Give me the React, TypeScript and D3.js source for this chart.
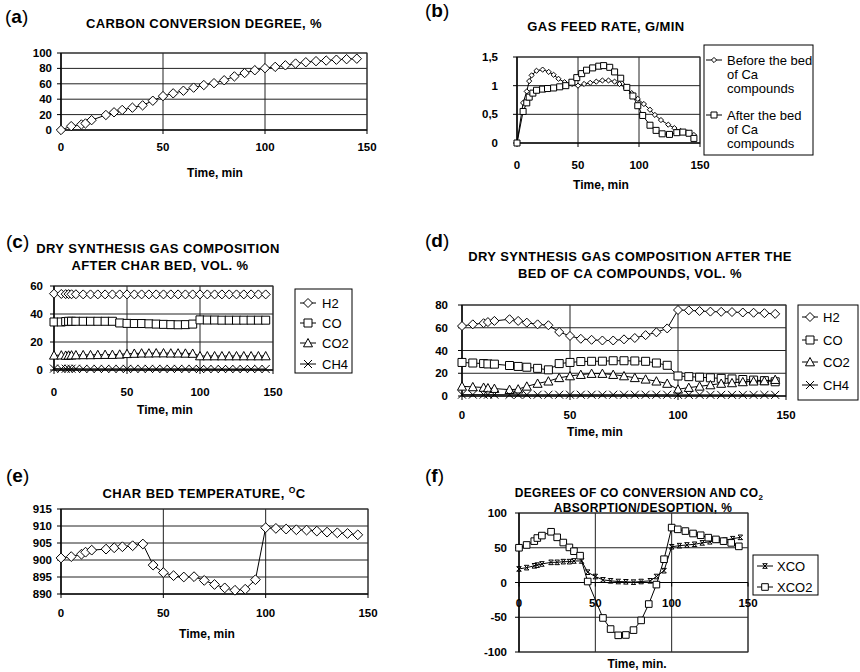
import React from 'react';
import * as d3 from 'd3';

const FONT = "'Liberation Sans', Arial, Helvetica, sans-serif";

// (a) carbon conversion degree, %
const timeA = [0, 5, 10, 12, 15, 22, 26, 30, 35, 40, 45, 50, 55, 60, 65, 70, 75, 80, 85, 90, 95, 100, 105, 110, 115, 120, 125, 130, 135, 140, 145];
const carbonConv = [0, 5, 7.2, 8.5, 12.8, 19.5, 23, 26, 29, 32, 38, 44, 47.6, 51, 55, 58.4, 60.8, 64.6, 69.6, 74, 77.6, 80.3, 82, 84, 86.3, 88, 89.4, 90.2, 91.3, 92, 92.6];

// (b) gas feed rate, g/min
const timeBefore = [0, 5, 8, 10, 12, 16, 21, 26, 30, 34, 39, 45, 50, 55, 60, 65, 70, 75, 80, 84, 89, 94, 99, 104, 109, 113, 118, 124, 129, 134, 140, 145];
const feedBefore = [0, 0.7, 0.9, 1.08, 1.18, 1.26, 1.28, 1.24, 1.19, 1.12, 1.06, 1.03, 1.0, 1.03, 1.05, 1.07, 1.09, 1.09, 1.07, 1.03, 0.96, 0.87, 0.77, 0.68, 0.58, 0.49, 0.4, 0.32, 0.26, 0.21, 0.18, 0.14];
const timeAfter = [0, 5, 8, 10, 13, 16, 21, 25, 30, 35, 40, 45, 49, 53, 57, 62, 67, 71, 76, 80, 85, 90, 95, 99, 103, 109, 114, 119, 125, 131, 136, 141, 145];
const feedAfter = [0, 0.55, 0.7, 0.8, 0.87, 0.92, 0.94, 0.95, 0.96, 0.98, 1.0, 1.06, 1.14, 1.21, 1.27, 1.31, 1.34, 1.35, 1.32, 1.24, 1.13, 0.97, 0.82, 0.65, 0.48, 0.31, 0.22, 0.16, 0.15, 0.18, 0.19, 0.17, 0.08];

// (c) dry synthesis gas after char bed, vol. %
const timeC = [0, 5, 8, 10, 12, 15, 20, 25, 30, 35, 40, 45, 50, 55, 60, 65, 70, 75, 80, 85, 90, 95, 100, 105, 110, 115, 120, 125, 130, 135, 140, 145];
const h2C = [54.5, 54.3, 54.2, 54.2, 54.1, 54.1, 54, 54, 54, 54, 54, 54, 54, 54, 54, 54, 54, 54, 54, 54, 54, 54, 54, 54, 54, 54, 54, 54, 54, 54, 54, 54];
const coC = [34.3, 34.3, 34.6, 34.8, 34.8, 34.8, 34.8, 34.8, 34.8, 34.8, 34.8, 33.6, 33.3, 33.2, 33.2, 33.0, 32.8, 32.6, 32.4, 32.3, 32.4, 32.8, 35.8, 35.7, 35.7, 35.6, 35.6, 35.6, 35.6, 35.6, 35.6, 35.6];
const co2C = [10.5, 10.6, 10.4, 10.5, 10.6, 10.7, 10.8, 10.8, 10.9, 11, 11, 11.2, 11.6, 11.8, 12, 12, 12.1, 12.1, 12, 12, 11.9, 11.8, 10, 10, 10, 10, 10, 10, 10, 10, 10, 10];
const ch4C = [1, 0.9, 0.9, 0.9, 0.9, 0.9, 0.8, 0.8, 0.8, 0.8, 0.8, 0.8, 0.8, 0.8, 0.8, 0.8, 0.8, 0.8, 0.8, 0.8, 0.8, 0.8, 0.7, 0.7, 0.7, 0.7, 0.7, 0.7, 0.7, 0.7, 0.7, 0.7];

// (d) dry synthesis gas after the bed of Ca compounds, vol. %
const timeD = [0, 5, 10, 12, 15, 22, 26, 30, 35, 40, 45, 50, 55, 60, 65, 70, 75, 80, 85, 90, 95, 100, 105, 110, 115, 120, 125, 130, 135, 140, 145];
const h2D = [61.5, 63, 64, 65, 66, 67.5, 66, 64.5, 63, 62.2, 56.3, 52.8, 50.3, 49.4, 48.8, 48.8, 49.8, 51, 53.5, 56, 59.4, 75.6, 75.3, 74.7, 74.2, 74, 73.8, 73.4, 73.2, 72.8, 72.2];
const coD = [29.5, 29, 28.5, 28.2, 28, 26.8, 26, 25.3, 24.3, 23, 28.5, 29.5, 30.3, 30.5, 30.6, 31, 31, 30.8, 30.5, 29, 27, 17.6, 17, 16.5, 16, 15.5, 15, 14.5, 14, 13.5, 12.5];
const co2D = [8.5, 8, 7.5, 7, 6.5, 5.6, 6, 8.5, 11, 13, 16, 17.6, 18.8, 19.7, 19.7, 18.8, 17.6, 16, 14.7, 13, 11, 5.9, 7.4, 8.5, 9.7, 11, 11.5, 12.4, 13, 13.2, 14.4];
const ch4D = [1.2, 1.2, 1.2, 1.2, 1.2, 1.1, 1.1, 1.1, 1.1, 1.1, 1.1, 1.1, 1.1, 1.1, 1.1, 1.1, 1.1, 1.1, 1.1, 1.1, 1.1, 1, 1, 1, 1, 1, 1, 1, 1, 1, 1];

// (e) char bed temperature, °C
const timeE = [0, 5, 10, 12, 15, 22, 26, 30, 35, 40, 45, 50, 55, 60, 65, 70, 75, 80, 85, 90, 95, 100, 105, 110, 115, 120, 125, 130, 135, 140, 145];
const bedTemp = [900.6, 901, 901.7, 902.3, 902.9, 903.2, 903.6, 903.9, 904.2, 904.7, 898.5, 896.3, 895.4, 895, 895.1, 894, 892.8, 891.8, 891.1, 891.4, 894.2, 909.5, 909.3, 909.1, 908.9, 908.8, 908.5, 908.2, 908, 907.8, 907.4];

// (f) CO conversion and CO2 absorption/desorption, %
const timeXco = [0, 5, 10, 12, 15, 21, 25, 29, 33, 36, 41, 45, 50, 55, 60, 65, 70, 75, 80, 86, 90, 95, 100, 105, 110, 115, 120, 125, 130, 135, 140, 145];
const xco = [19.5, 21.4, 24, 25, 26.7, 29, 29, 30, 30, 31, 31, 14.8, 8.6, 3.8, 2.4, 1.4, 1, 0.5, 1.4, 2.4, 8.6, 17, 51.4, 53, 54, 55, 57, 58.6, 61, 61, 63, 65];
const timeXco2 = [0, 5, 10, 12, 15, 21, 25, 29, 33, 36, 40, 45, 55, 60, 65, 70, 75, 80, 85, 90, 95, 100, 104, 109, 114, 119, 124, 129, 134, 139, 144];
const xco2 = [50, 54, 59.5, 64, 67.5, 73, 65, 57.5, 50.5, 45, 38.6, 1.4, -51, -67, -76, -75.5, -68.5, -54.5, -31, -3, 33.5, 79, 76.5, 74, 70.5, 68, 64.5, 62, 59.5, 57, 52];

const timeTicks = [0, 50, 100, 150];
const ticksA = [0, 20, 40, 60, 80, 100];
const ticksB = [0, 0.5, 1, 1.5];
const ticksC = [0, 20, 40, 60];
const ticksD = [0, 20, 40, 60, 80];
const ticksE = [890, 895, 900, 905, 910, 915];
const ticksF = [-100, -50, 0, 50, 100];

type MarkerKind = 'diamond' | 'square' | 'triangle' | 'cross' | 'hourglass';

function markerPath(kind: MarkerKind, r: number): string {
  switch (kind) {
    case 'diamond':
      return `M0,${-r}L${r},0L0,${r}L${-r},0Z`;
    case 'square':
      return `M${-r},${-r}H${r}V${r}H${-r}Z`;
    case 'triangle':
      return `M0,${-r}L${r},${r * 0.85}L${-r},${r * 0.85}Z`;
    case 'cross':
      return `M${-r},${-r}L${r},${r}M${-r},${r}L${r},${-r}`;
    case 'hourglass':
      return `M${-r},${-r}H${r}M${-r},${r}H${r}M${-r},${-r}L${r},${r}M${r},${-r}L${-r},${r}`;
  }
}

function Marker({ kind, r, x, y }: { kind: MarkerKind; r: number; x: number; y: number }) {
  const open = kind === 'cross' || kind === 'hourglass';
  return (
    <path
      d={markerPath(kind, r)}
      transform={`translate(${x},${y})`}
      fill={open ? 'none' : '#fff'}
      stroke="#000"
      strokeWidth={1}
    />
  );
}

interface Series {
  name: string;
  xs: number[];
  ys: number[];
  marker: MarkerKind;
  r: number;
}

interface PanelProps {
  l: number;
  r: number;
  t: number;
  b: number;
  yDomain: [number, number];
  yTicks: number[];
  yFmt?: (v: number) => string;
  series: Series[];
  xAxisAt?: number;
  xLabelBaseline: number;
  yLabelRight: number;
}

function Panel({ l, r, t, b, yDomain, yTicks, yFmt, series, xAxisAt, xLabelBaseline, yLabelRight }: PanelProps) {
  const x = d3.scaleLinear().domain([0, 150]).range([l, r]);
  const y = d3.scaleLinear().domain(yDomain).range([b, t]);
  const fmt = yFmt || ((v: number) => String(v));
  const axisY = y(xAxisAt !== undefined ? xAxisAt : yDomain[0]);
  return (
    <g>
      {yTicks.map((v) => (
        <line key={'h' + v} x1={l} x2={r} y1={y(v)} y2={y(v)} stroke="#222" strokeWidth={1} />
      ))}
      {timeTicks.map((v) => (
        <line key={'v' + v} x1={x(v)} x2={x(v)} y1={t} y2={b} stroke="#222" strokeWidth={1} />
      ))}
      <rect x={l} y={t} width={r - l} height={b - t} fill="none" stroke="#333" strokeWidth={1} />
      {/* value axis */}
      <line x1={l} x2={l} y1={t} y2={b} stroke="#000" strokeWidth={1.2} />
      {yTicks.map((v) => (
        <line key={'yt' + v} x1={l - 4} x2={l} y1={y(v)} y2={y(v)} stroke="#000" />
      ))}
      {yTicks.map((v) => (
        <text
          key={'yl' + v}
          x={yLabelRight}
          y={y(v) + 4}
          textAnchor="end"
          fontFamily={FONT}
          fontWeight="bold"
          fontSize={11.5}
        >
          {fmt(v)}
        </text>
      ))}
      {/* time axis */}
      <line x1={l} x2={r} y1={axisY} y2={axisY} stroke="#000" strokeWidth={1.2} />
      {timeTicks.map((v) => (
        <line key={'xt' + v} x1={x(v)} x2={x(v)} y1={axisY} y2={axisY + 4} stroke="#000" />
      ))}
      {timeTicks.map((v) => (
        <text
          key={'xl' + v}
          x={x(v)}
          y={xLabelBaseline}
          textAnchor="middle"
          fontFamily={FONT}
          fontWeight="bold"
          fontSize={11.5}
        >
          {v}
        </text>
      ))}
      {series.map((s) => {
        const pts = s.xs.map((xv, i) => [xv, s.ys[i]] as [number, number]);
        const line = d3
          .line<[number, number]>()
          .x((d) => x(d[0]))
          .y((d) => y(d[1]));
        return (
          <g key={s.name}>
            <path d={line(pts) || ''} fill="none" stroke="#000" strokeWidth={1} />
            {pts.map((d, i) => (
              <Marker key={i} kind={s.marker} r={s.r} x={x(d[0])} y={y(d[1])} />
            ))}
          </g>
        );
      })}
    </g>
  );
}

interface LegendItem {
  lines: string[];
  marker: MarkerKind;
  r: number;
  cy: number;
}

function Legend({ x, y, w, h, mx, tx, items, lineGap = 14 }: { x: number; y: number; w: number; h: number; mx: number; tx: number; items: LegendItem[]; lineGap?: number }) {
  return (
    <g>
      <rect x={x} y={y} width={w} height={h} fill="#fff" stroke="#000" strokeWidth={1} />
      {items.map((it, i) => (
        <g key={i}>
          <line x1={mx - 8} x2={mx + 8} y1={it.cy} y2={it.cy} stroke="#000" />
          <Marker kind={it.marker} r={it.r} x={mx} y={it.cy} />
          {it.lines.map((ln, j) => (
            <text key={j} x={tx} y={it.cy + 4.5 + j * lineGap} fontFamily={FONT} fontSize={13}>
              {ln}
            </text>
          ))}
        </g>
      ))}
    </g>
  );
}

function PanelLetter({ x, y, letter }: { x: number; y: number; letter: string }) {
  return (
    <text x={x} y={y} fontFamily={FONT} fontSize={19}>
      (<tspan fontWeight="bold">{letter}</tspan>)
    </text>
  );
}

function Title({ x, y, children, size = 13, spacing = 0.4 }: { x: number; y: number; children: React.ReactNode; size?: number; spacing?: number }) {
  return (
    <text x={x} y={y} textAnchor="middle" fontFamily={FONT} fontWeight="bold" fontSize={size} letterSpacing={spacing}>
      {children}
    </text>
  );
}

const commaFmt = (v: number) => String(v).replace('.', ',');

export default function App() {
  return (
    <div style={{ position: 'absolute', left: 0, top: 0 }}>
      <svg width={860} height={672} style={{ display: 'block', background: '#fff' }}>
        {/* (a) */}
        <PanelLetter x={5} y={23} letter="a" />
        <Title x={204} y={28}>CARBON CONVERSION DEGREE, %</Title>
        <Panel
          l={61} r={367} t={53} b={130}
          yDomain={[0, 100]} yTicks={ticksA}
          xLabelBaseline={151} yLabelRight={52}
          series={[{ name: 'conv', xs: timeA, ys: carbonConv, marker: 'diamond', r: 4.7 }]}
        />
        <Title x={215} y={177} size={12} spacing={0}>Time, min</Title>

        {/* (b) */}
        <PanelLetter x={425} y={17} letter="b" />
        <Title x={606} y={31}>GAS FEED RATE, G/MIN</Title>
        <Panel
          l={517} r={700} t={57} b={143}
          yDomain={[0, 1.5]} yTicks={ticksB} yFmt={commaFmt}
          xLabelBaseline={169} yLabelRight={498}
          series={[
            { name: 'before', xs: timeBefore, ys: feedBefore, marker: 'diamond', r: 2.6 },
            { name: 'after', xs: timeAfter, ys: feedAfter, marker: 'square', r: 3 },
          ]}
        />
        <Legend
          x={704} y={45} w={109} h={110} mx={714} tx={727}
          items={[
            { lines: ['Before the bed', 'of Ca', 'compounds'], marker: 'diamond', r: 2.6, cy: 60 },
            { lines: ['After the bed', 'of Ca', 'compounds'], marker: 'square', r: 3, cy: 115 },
          ]}
        />
        <Title x={601} y={189} size={12} spacing={0}>Time, min</Title>

        {/* (c) */}
        <PanelLetter x={6} y={248} letter="c" />
        <Title x={158} y={253}>DRY SYNTHESIS GAS COMPOSITION</Title>
        <Title x={160} y={270}>AFTER CHAR BED, VOL. %</Title>
        <Panel
          l={54} r={273} t={286} b={370}
          yDomain={[0, 60]} yTicks={ticksC}
          xLabelBaseline={396} yLabelRight={43}
          series={[
            { name: 'H2', xs: timeC, ys: h2C, marker: 'diamond', r: 4.5 },
            { name: 'CO', xs: timeC, ys: coC, marker: 'square', r: 4 },
            { name: 'CO2', xs: timeC, ys: co2C, marker: 'triangle', r: 4.5 },
            { name: 'CH4', xs: timeC, ys: ch4C, marker: 'cross', r: 4 },
          ]}
        />
        <Legend
          x={295} y={289} w={57} h={84} mx={308} tx={322}
          items={[
            { lines: ['H2'], marker: 'diamond', r: 4.5, cy: 303 },
            { lines: ['CO'], marker: 'square', r: 4, cy: 323 },
            { lines: ['CO2'], marker: 'triangle', r: 4.5, cy: 343 },
            { lines: ['CH4'], marker: 'cross', r: 4, cy: 364 },
          ]}
        />
        <Title x={165} y={414} size={12} spacing={0}>Time, min</Title>

        {/* (d) */}
        <PanelLetter x={425} y={247} letter="d" />
        <Title x={630} y={261}>DRY SYNTHESIS GAS COMPOSITION AFTER THE</Title>
        <Title x={630} y={278}>BED OF CA COMPOUNDS, VOL. %</Title>
        <Panel
          l={462} r={786} t={305} b={396}
          yDomain={[0, 80]} yTicks={ticksD}
          xLabelBaseline={419} yLabelRight={448}
          series={[
            { name: 'H2', xs: timeD, ys: h2D, marker: 'diamond', r: 4.5 },
            { name: 'CO', xs: timeD, ys: coD, marker: 'square', r: 4 },
            { name: 'CO2', xs: timeD, ys: co2D, marker: 'triangle', r: 4.5 },
            { name: 'CH4', xs: timeD, ys: ch4D, marker: 'cross', r: 4 },
          ]}
        />
        <Legend
          x={798} y={305} w={60} h={95} mx={810} tx={823}
          items={[
            { lines: ['H2'], marker: 'diamond', r: 4.5, cy: 317 },
            { lines: ['CO'], marker: 'square', r: 4, cy: 340 },
            { lines: ['CO2'], marker: 'triangle', r: 4.5, cy: 362 },
            { lines: ['CH4'], marker: 'cross', r: 4, cy: 385 },
          ]}
        />
        <Title x={595} y={436} size={12} spacing={0}>Time, min</Title>

        {/* (e) */}
        <PanelLetter x={6} y={482} letter="e" />
        <Title x={204} y={498}>
          CHAR BED TEMPERATURE, <tspan fontSize={8.5} dy={-5}>O</tspan>
          <tspan dy={5}>C</tspan>
        </Title>
        <Panel
          l={61} r={368} t={509} b={594}
          yDomain={[890, 915]} yTicks={ticksE}
          xLabelBaseline={617} yLabelRight={52}
          series={[{ name: 'temp', xs: timeE, ys: bedTemp, marker: 'diamond', r: 4.9 }]}
        />
        <Title x={207} y={638} size={12} spacing={0}>Time, min</Title>

        {/* (f) */}
        <PanelLetter x={425} y={482} letter="f" />
        <Title x={639} y={497} size={12} spacing={0.3}>
          DEGREES OF CO CONVERSION AND CO<tspan fontSize={8} dy={3}>2</tspan>
        </Title>
        <Title x={643} y={512} size={12} spacing={0.3}>ABSORPTION/DESOPTION, %</Title>
        <Panel
          l={519} r={748} t={513} b={652}
          yDomain={[-100, 100]} yTicks={ticksF}
          xAxisAt={0}
          xLabelBaseline={607} yLabelRight={507}
          series={[
            { name: 'XCO', xs: timeXco, ys: xco, marker: 'hourglass', r: 2.3 },
            { name: 'XCO2', xs: timeXco2, ys: xco2, marker: 'square', r: 3.3 },
          ]}
        />
        <Legend
          x={753} y={555} w={65} h={40} mx={765} tx={777}
          items={[
            { lines: ['XCO'], marker: 'hourglass', r: 2.3, cy: 566 },
            { lines: ['XCO2'], marker: 'square', r: 3.3, cy: 587 },
          ]}
        />
        <Title x={637} y={668} size={12} spacing={0}>Time, min.</Title>
      </svg>
    </div>
  );
}
